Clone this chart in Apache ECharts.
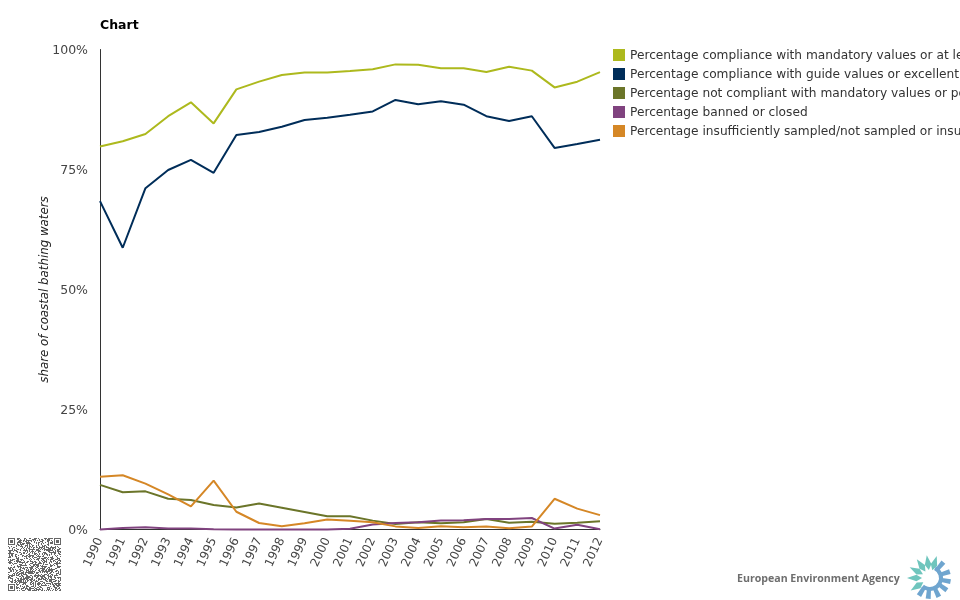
<!DOCTYPE html>
<html>
<head>
<meta charset="utf-8">
<style>
  html, body { margin: 0; padding: 0; background: #fff; }
  #chart { width: 960px; height: 600px; }
</style>
<script src="https://cdn.jsdelivr.net/npm/echarts@6/dist/echarts.min.js"></script>
</head>
<body>
<div id="chart"></div>
<script>
var years = ['1990', '1991', '1992', '1993', '1994', '1995', '1996', '1997', '1998', '1999', '2000', '2001',
  '2002', '2003', '2004', '2005', '2006', '2007', '2008', '2009', '2010', '2011', '2012'];

var mandatory = [79.8, 80.9, 82.4, 86.1, 89, 84.6, 91.7, 93.3, 94.7, 95.2, 95.2, 95.5,
  95.9, 96.9, 96.8, 96.1, 96.1, 95.3, 96.4, 95.6, 92.1, 93.3, 95.3];
var guide = [68.4, 58.7, 71.1, 74.9, 77, 74.3, 82.2, 82.8, 83.9, 85.3, 85.8, 86.4,
  87.1, 89.5, 88.6, 89.2, 88.5, 86.1, 85.1, 86.1, 79.5, 80.3, 81.2];
var notCompliant = [9.3, 7.75, 7.95, 6.4, 6.15, 5.1, 4.6, 5.4, 4.55, 3.65, 2.75, 2.75,
  1.85, 1.15, 1.5, 1.3, 1.5, 2.2, 1.4, 1.6, 1.2, 1.4, 1.7];
var banned = [0, 0.3, 0.45, 0.2, 0.2, 0.05, 0, 0, 0, 0, 0, 0.15,
  1.05, 1.35, 1.5, 1.9, 1.95, 2.2, 2.2, 2.4, 0.2, 1, 0.05];
var insufficient = [11, 11.3, 9.55, 7.3, 4.8, 10.2, 3.7, 1.35, 0.7, 1.3, 2.1, 1.8,
  1.5, 0.65, 0.3, 0.7, 0.45, 0.6, 0.25, 0.6, 6.4, 4.35, 3];

var seriesNames = [
  'Percentage compliance with mandatory values or at least sufficient',
  'Percentage compliance with guide values or excellent quality',
  'Percentage not compliant with mandatory values or poor quality',
  'Percentage banned or closed',
  'Percentage insufficiently sampled/not sampled or insufficient data'
];
var seriesColors = ['#adb91d', '#002d59', '#6b7529', '#80437f', '#d58726'];
var seriesValues = [mandatory, guide, notCompliant, banned, insufficient];

var FONT = '"DejaVu Sans", sans-serif';

// small QR-like block, finder squares plus a fixed hash fill
function qrCode(x, y, n) {
  var cells = [];
  function finder(cx, cy) {
    for (var i = 0; i < 7; i++) {
      for (var j = 0; j < 7; j++) {
        var ring = i === 0 || i === 6 || j === 0 || j === 6;
        var core = i > 1 && i < 5 && j > 1 && j < 5;
        if (ring || core) cells.push([cx + i, cy + j]);
      }
    }
  }
  function reserved(i, j) {
    return (i < 8 && j < 8) || (i >= n - 8 && j < 8) || (i < 8 && j >= n - 8);
  }
  var h = 2463534242;
  for (var i = 0; i < n; i++) {
    for (var j = 0; j < n; j++) {
      h ^= h << 13; h ^= h >>> 17; h ^= h << 5;
      if (reserved(i, j)) continue;
      if ((h >>> 7) & 1) cells.push([i, j]);
    }
  }
  finder(0, 0);
  finder(n - 7, 0);
  finder(0, n - 7);
  return {
    type: 'group',
    x: x,
    y: y,
    silent: true,
    children: cells.map(function (c) {
      return { type: 'rect', shape: { x: c[0], y: c[1], width: 1, height: 1 }, style: { fill: '#666' } };
    })
  };
}

function eeaLogo(cx, cy) {
  var children = [];
  function p(r, t) { return [r * Math.cos(t), r * Math.sin(t)]; }
  [147, 180, 208, 235, 262, 287].forEach(function (deg) {
    var a = deg * Math.PI / 180, w = 0.24;
    children.push({
      type: 'polygon',
      shape: { points: [p(8, a), p(14, a - w), p(23, a), p(14, a + w)] },
      style: { fill: '#6fc5bd' }
    });
  });
  [-50, -18, 10, 36, 65, 95, 122].forEach(function (deg) {
    var a = deg * Math.PI / 180, w = 0.17;
    children.push({
      type: 'polygon',
      shape: { points: [p(12, a - w), p(21, a - w * 0.7), p(21, a + w * 0.7), p(12, a + w)] },
      style: { fill: '#6fa5cf' }
    });
  });
  children.push({
    type: 'arc',
    shape: { cx: 0, cy: 0, r: 11, startAngle: -1.1, endAngle: 2.3 },
    style: { stroke: '#6fa5cf', lineWidth: 4, fill: null }
  });
  return { type: 'group', x: cx, y: cy, silent: true, children: children };
}

var chart = echarts.init(document.getElementById('chart'), null, { renderer: 'canvas' });

chart.setOption({
  animation: false,
  backgroundColor: '#fff',
  textStyle: { fontFamily: FONT },
  title: {
    text: 'Chart',
    left: 100,
    top: 19,
    padding: 0,
    textStyle: { fontFamily: FONT, fontSize: 12.5, fontWeight: 'bold', color: '#000' }
  },
  legend: {
    orient: 'vertical',
    left: 613,
    top: 49,
    padding: 0,
    itemWidth: 12,
    itemHeight: 12,
    itemGap: 6,
    icon: 'rect',
    selectedMode: false,
    data: seriesNames,
    formatter: '{a|{name}}',
    textStyle: {
      fontFamily: FONT,
      fontSize: 12.2,
      color: '#333',
      rich: {
        a: { fontFamily: FONT, fontSize: 12.2, color: '#333', padding: [2, 0, 0, 0] }
      }
    }
  },
  grid: { left: 100, right: 360, top: 49.5, bottom: 70.5, containLabel: false },
  xAxis: {
    type: 'category',
    data: years,
    boundaryGap: false,
    axisLine: { show: true, lineStyle: { color: '#333', width: 1 } },
    axisTick: { show: false },
    axisLabel: {
      interval: 0,
      rotate: 65,
      margin: 9,
      fontFamily: FONT,
      fontSize: 12,
      color: '#444'
    },
    splitLine: { show: false }
  },
  yAxis: {
    type: 'value',
    min: 0,
    max: 100,
    interval: 25,
    name: 'share of coastal bathing waters',
    nameLocation: 'middle',
    nameGap: 49,
    nameMoveOverlap: false,
    nameTextStyle: { fontFamily: FONT, fontSize: 11.8, fontStyle: 'italic', color: '#222' },
    axisLine: { show: true, lineStyle: { color: '#333', width: 1 } },
    axisTick: { show: false },
    axisLabel: {
      formatter: '{a|{value}%}',
      margin: 12,
      rich: {
        a: { fontFamily: FONT, fontSize: 12.5, color: '#444', padding: [2, 0, 0, 0] }
      }
    },
    splitLine: { show: false }
  },
  series: seriesNames.map(function (name, i) {
    return {
      name: name,
      type: 'line',
      data: seriesValues[i],
      symbol: 'none',
      clip: false,
      lineStyle: { width: 2, color: seriesColors[i] },
      itemStyle: { color: seriesColors[i] }
    };
  }),
  graphic: [
    qrCode(8, 538, 53),
    {
      type: 'text',
      left: 737,
      top: 573,
      silent: true,
      style: {
        text: 'European Environment Agency',
        fontFamily: '"Open Sans", sans-serif',
        fontSize: 10.6,
        fontWeight: 'bold',
        fill: '#6e6e6e'
      }
    },
    eeaLogo(930, 578)
  ]
});
</script>
</body>
</html>
